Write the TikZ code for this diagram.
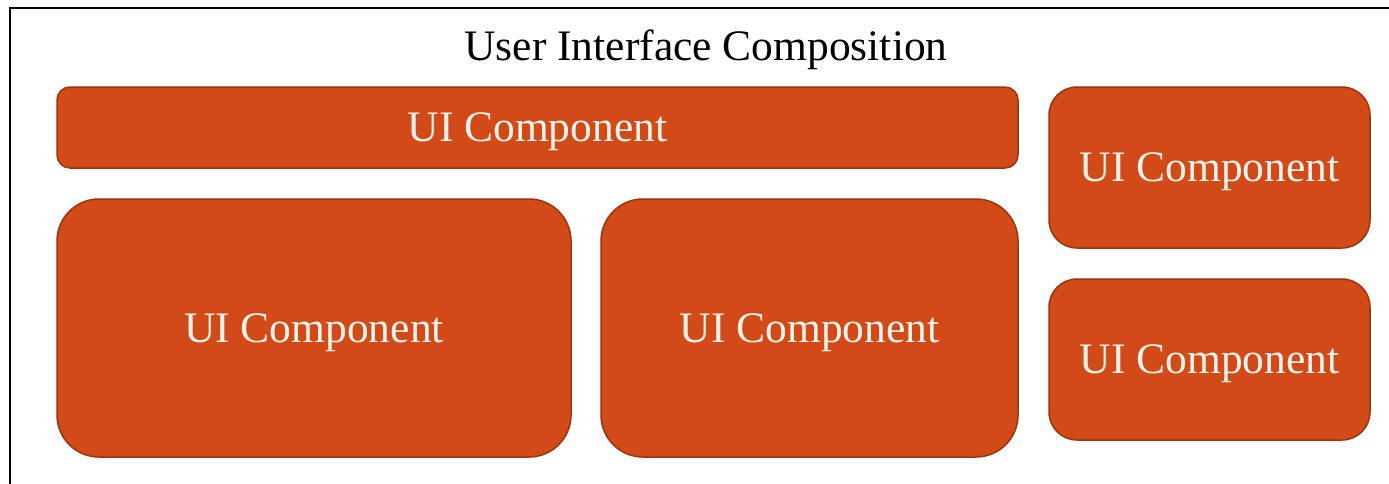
\documentclass[tikz,border=0pt]{standalone}
\usepackage{fontspec}
\setmainfont{Liberation Serif}
\definecolor{compfill}{RGB}{210,74,24}
\definecolor{compdraw}{RGB}{158,52,14}
\definecolor{comptext}{RGB}{252,244,236}
\begin{document}
\begin{tikzpicture}[x=1pt,y=-1pt,
  comp/.style={draw=compdraw, fill=compfill, line width=1.5pt, text=comptext,
    font=\fontsize{43.5}{48}\selectfont, inner sep=0pt, outer sep=0pt,
    text depth=0pt, rectangle}]
\useasboundingbox (0,0) rectangle (1389,483);
\clip (0,0) rectangle (1389,483);
\fill[white] (0,0) rectangle (1389,483);
\draw[line width=2.2pt, black] (10,8) rectangle (1420,520);
\node[font=\fontsize{43.5}{48}\selectfont, text=black, anchor=base] (title) at (706,60) {User Interface Composition};
\node[comp, minimum width=961pt, minimum height=81pt, rounded corners=13pt] (top) at (537.5,127.5) {UI Component};
\node[comp, minimum width=514pt, minimum height=258pt, rounded corners=42pt] (left) at (314,328) {UI Component};
\node[comp, minimum width=417pt, minimum height=258pt, rounded corners=42pt] (mid) at (809.5,328) {UI Component};
\node[comp, minimum width=321pt, minimum height=161pt, rounded corners=28pt] (rtop) at (1209.5,167.5) {UI Component};
\node[comp, minimum width=321pt, minimum height=161pt, rounded corners=28pt] (rbot) at (1209.5,359.5) {UI Component};
\end{tikzpicture}
\end{document}
